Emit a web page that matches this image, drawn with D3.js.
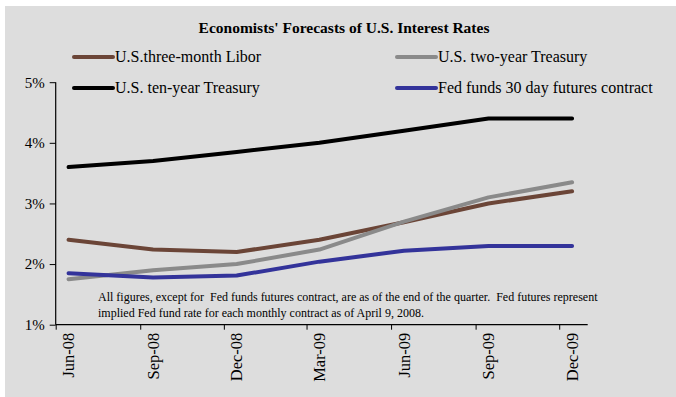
<!DOCTYPE html>
<html>
<head>
<meta charset="utf-8">
<script src="https://cdn.jsdelivr.net/npm/d3@7"></script>
<style>
  html, body { margin: 0; padding: 0; background: #ffffff; }
  text { font-family: "Liberation Serif", "DejaVu Serif", serif; fill: #000; }
</style>
</head>
<body>
<div id="chart"></div>
<script>
// 数据
var dates = ['2008-06-15', '2008-09-15', '2008-12-15', '2009-03-15', '2009-06-15', '2009-09-15', '2009-12-15'];
var tickLabels = ['Jun-08', 'Sep-08', 'Dec-08', 'Mar-09', 'Jun-09', 'Sep-09', 'Dec-09'];
var tickDates = ['2008-06-01', '2008-09-01', '2008-12-01', '2009-03-01', '2009-06-01', '2009-09-01', '2009-12-01'];
var yTicks = [1, 2, 3, 4, 5];
var libor = [2.40, 2.24, 2.20, 2.40, 2.69, 3.00, 3.20];
var twoYear = [1.75, 1.90, 2.00, 2.24, 2.70, 3.10, 3.35];
var tenYear = [3.60, 3.70, 3.85, 4.00, 4.20, 4.40, 4.40];
var fedFunds = [1.85, 1.78, 1.81, 2.04, 2.22, 2.30, 2.30];
var seriesNames = ['U.S.three-month Libor', 'U.S. two-year Treasury', 'U.S. ten-year Treasury', 'Fed funds 30 day futures contract'];

var opt = {
    width: 676,
    height: 397,
    left: 55.7,
    right: 587.7,
    top: 82.2,
    bottom: 324.7,
    bg: '#dddddd',
    lineW: 4,
    colors: ['#6b4537', '#8a8a8a', '#000000', '#33339a']
};

var parse = d3.timeParse('%Y-%m-%d');
var svg = d3.select('#chart').append('svg')
    .attr('width', opt.width)
    .attr('height', opt.height);

// 背景
svg.append('rect')
    .attr('x', 5).attr('y', 6)
    .attr('width', opt.width - 5).attr('height', opt.height - 6)
    .attr('fill', opt.bg);

var x = d3.scaleTime()
    .domain([parse('2008-06-01'), parse('2010-01-01')])
    .range([opt.left, opt.right]);
var y = d3.scaleLinear()
    .domain([1, 5])
    .range([opt.bottom, opt.top]);

// 标题
svg.append('text')
    .attr('x', 344).attr('y', 33)
    .attr('text-anchor', 'middle')
    .style('font-size', '15.5px').style('font-weight', 'bold')
    .text("Economists' Forecasts of U.S. Interest Rates");

// 图例
var legendPos = [[74, 57], [397, 57], [74, 88], [397, 88]];
seriesNames.forEach(function (name, i) {
    var p = legendPos[i];
    svg.append('line')
        .attr('x1', p[0]).attr('y1', p[1])
        .attr('x2', p[0] + 39).attr('y2', p[1])
        .attr('stroke', opt.colors[i])
        .attr('stroke-width', opt.lineW)
        .attr('stroke-linecap', 'round');
    svg.append('text')
        .attr('x', p[0] + 41).attr('y', p[1] + 5)
        .style('font-size', '16px')
        .text(name);
});

// Y轴
var yAxis = svg.append('g')
    .attr('transform', 'translate(' + opt.left + ',0)')
    .call(d3.axisLeft(y).tickValues(yTicks).tickSize(6).tickPadding(5)
        .tickFormat(function (d) { return d + '%'; }));
yAxis.selectAll('text').style('font-size', '15px').style('font-family', '"Liberation Serif", serif');

// X轴
var xAxis = svg.append('g')
    .attr('transform', 'translate(0,' + opt.bottom + ')')
    .call(d3.axisBottom(x).tickValues(tickDates.map(parse)).tickSize(5).tickFormat(''));
[yAxis, xAxis].forEach(function (g) {
    g.select('.domain').attr('stroke', '#000').attr('stroke-width', 1.2);
    g.selectAll('.tick line').attr('stroke', '#000');
});
// 去掉轴末端外伸
yAxis.select('.domain').attr('d', 'M0,' + opt.top + 'V' + opt.bottom);
xAxis.select('.domain').attr('d', 'M' + opt.left + ',0H' + opt.right);

// 横坐标刻度值
tickLabels.forEach(function (lab, i) {
    var px = x(parse(dates[i]));
    svg.append('text')
        .attr('transform', 'translate(' + px + ',' + (opt.bottom + 8) + ') rotate(-90)')
        .attr('text-anchor', 'end')
        .attr('dy', '0.35em')
        .style('font-size', '16.5px')
        .text(lab);
});

// 注释
var notes = ['All figures, except for  Fed funds futures contract, are as of the end of the quarter.  Fed futures represent',
    'implied Fed fund rate for each monthly contract as of April 9, 2008.'];
notes.forEach(function (t, i) {
    svg.append('text')
        .attr('x', 98).attr('y', 300.5 + i * 16)
        .attr('xml:space', 'preserve')
        .style('white-space', 'pre')
        .style('font-size', '12px')
        .text(t);
});

// 折线
var line = d3.line()
    .x(function (d, i) { return x(parse(dates[i])); })
    .y(function (d) { return y(d); });
[libor, twoYear, tenYear, fedFunds].forEach(function (s, i) {
    svg.append('path')
        .attr('d', line(s))
        .attr('fill', 'none')
        .attr('stroke', opt.colors[i])
        .attr('stroke-width', opt.lineW)
        .attr('stroke-linejoin', 'round')
        .attr('stroke-linecap', 'round');
});
</script>
</body>
</html>
